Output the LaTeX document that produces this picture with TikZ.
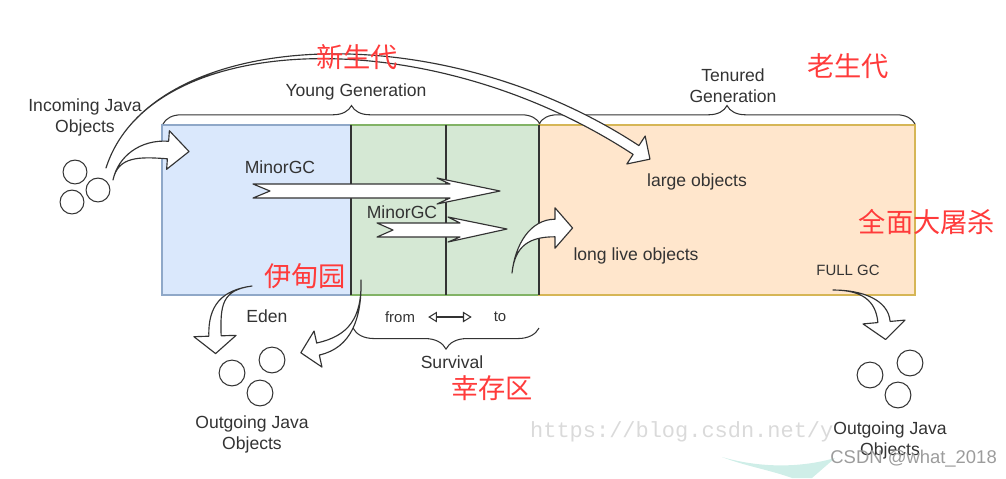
\documentclass[tikz,border=0pt]{standalone}
\usepackage{fontspec}
\setmainfont{Liberation Sans}
\newfontfamily\cjk{Noto Sans CJK SC}
\newfontfamily\wmono{Liberation Mono}
\usepackage{xcolor}
\usepackage{tikz}
\usetikzlibrary{calc,arrows.meta,decorations.pathreplacing}
\definecolor{ink}{HTML}{333333}
\definecolor{edenfill}{HTML}{DAE8FC}
\definecolor{edenline}{HTML}{8FA8C8}
\definecolor{survfill}{HTML}{D5E8D4}
\definecolor{survline}{HTML}{82B366}
\definecolor{tenfill}{HTML}{FFE6CC}
\definecolor{tenline}{HTML}{D6B656}
\definecolor{cnred}{HTML}{FF3B3B}
\definecolor{wmgray}{HTML}{DADADA}
\definecolor{csdn}{HTML}{9C9C9C}
\definecolor{swoosh}{HTML}{CFEEE8}
\tikzset{
  area/.style={line width=0.6pt},
  divide/.style={draw=ink, line width=0.6pt},
  curly/.style={draw=ink, line width=0.6pt, decorate, decoration={brace, amplitude=#1}},
  fat/.style={draw=ink, fill=white, line width=0.65pt, line join=round},
  ball/.style={circle, draw=ink, line width=0.6pt, minimum size=#1, inner sep=0pt},
  ball/.default=14.7pt,
  xchg/.style={draw=ink, line width=0.6pt, {Triangle[open,length=5pt,width=6pt]}-{Triangle[open,length=5pt,width=6pt]}},
  lab/.style={text=ink, font=\fontsize{10}{12}\selectfont, align=center},
  labs/.style={text=ink, font=\fontsize{8.5}{10}\selectfont},
  cn/.style={text=cnred, font=\cjk\fontsize{15.5}{18}\selectfont},
}
% tapered bent arrow: tail, control 1, control 2, head base, shaft half width, head half width, head length
\newcommand{\bentarrow}[7]{%
  \draw[fat] (#1) .. controls (#2) and ($(#3)!#5!90:(#4)$) .. ($(#4)!#5!-90:(#3)$)
    -- ($(#4)!#6!-90:(#3)$) -- ($(#4)!-#7!(#3)$) -- ($(#4)!#6!90:(#3)$)
    -- ($(#4)!#5!90:(#3)$) .. controls ($(#3)!#5!-90:(#4)$) and (#2) .. (#1) -- cycle;}

\begin{document}
\begin{tikzpicture}[x=0.02cm, y=-0.02cm]
  \useasboundingbox (0,0) rectangle (1006,478);
  % heap areas
  \draw[area, fill=edenfill, draw=edenline] (162,125) rectangle (351,295);
  \draw[area, fill=survfill, draw=survline] (351,125) rectangle (539,295);
  \draw[area, fill=tenfill, draw=tenline] (539,125) rectangle (915,295);
  \draw[divide] (351,125) -- (351,295);
  \draw[divide] (446,125) -- (446,295);
  \draw[divide] (539,125) -- (539,295);
  \draw[curly=10.5pt] (163,124) -- (540,124);
  \draw[curly=10.5pt] (539,124) -- (915,124);
  \draw[curly=12pt] (539,328) -- (353,328);

  \fill[swoosh] (722,457) .. controls (760,468) and (800,468) .. (835,458)
    -- (812,478) -- (792,478) .. controls (770,470) and (745,466) .. (722,457) -- cycle;
  \node[anchor=west, text=wmgray, font=\wmono\fontsize{12.5}{14}\selectfont] (url) at (524,432) {https://blog.csdn.net/y};

  % minor gc moves
  \draw[fat] (253,184) -- (270,191) -- (253,198) -- (450,198) -- (437,204)
    -- (500,191) -- (437,178) -- (450,184) -- cycle;
  \draw[fat] (377,223) -- (393,230) -- (377,237) -- (460,237) -- (448,242)
    -- (507,229) -- (448,217) -- (460,223) -- cycle;
  \bentarrow{113,180}{118,156}{140,148}{168,150}{5pt}{11pt}{12pt}
  \bentarrow{106,168}{150,30}{430,15}{636,150}{3pt}{9.5pt}{9.5pt}
  \bentarrow{512,273}{515,245}{530,228}{555,228}{5pt}{11.5pt}{10pt}
  \bentarrow{252,286}{222,290}{214,305}{215,336}{3.5pt}{12pt}{10pt}
  \bentarrow{361,280}{362,318}{350,342}{318,349}{3.5pt}{10.5pt}{10pt}
  \bentarrow{833,290}{862,290}{882,300}{884,322}{3.5pt}{12pt}{10pt}

  \node[lab] (incoming) at (85,117) {Incoming Java\\Objects};
  \node[lab] (young) at (356,92) {Young Generation};
  \node[lab] (tenured) at (733,86) {Tenured\\Generation};
  \node[lab] (minor1) at (280,167) {MinorGC};
  \node[lab] (minor2) at (402,212) {MinorGC};
  \node[lab] (large) at (697,182) {large objects};
  \node[lab] (longlive) at (636,256) {long live objects};
  \node[labs] (fullgc) at (848,270) {FULL GC};
  \node[lab] (eden) at (267,316) {Eden};
  \node[labs] (from) at (400,317) {from};
  \node[labs] (to) at (500,317) {to};
  \draw[xchg] ([xshift=4pt]from.east) -- ([xshift=-9pt]to.west);
  \node[lab] (survival) at (452,362) {Survival};
  \node[lab] (outleft) at (252,434) {Outgoing Java\\Objects};
  \node[lab] (outright) at (890,440) {Outgoing Java\\Objects};

  \node[ball=13.6pt] (in1) at (75,172) {};
  \node[ball=13.6pt] (in2) at (98,190) {};
  \node[ball=13.6pt] (in3) at (72,202) {};
  \node[ball] (outl1) at (232,373) {};
  \node[ball] (outl2) at (272,360) {};
  \node[ball] (outl3) at (260,393) {};
  \node[ball] (outr1) at (870,375) {};
  \node[ball] (outr2) at (910,363) {};
  \node[ball] (outr3) at (898,395) {};

  \node[cn] (xinsheng) at (357,57) {新生代};
  \node[cn] (laosheng) at (848,66) {老生代};
  \node[cn] (fullkill) at (927,222) {全面大屠杀};
  \node[cn] (yidian) at (305,276) {伊甸园};
  \node[cn] (xingcun) at (492,388) {幸存区};
  \node[anchor=east, text=csdn, font=\fontsize{10.5}{12}\selectfont] (csdn) at (1003,459) {CSDN @what\_2018};
\end{tikzpicture}
\end{document}
